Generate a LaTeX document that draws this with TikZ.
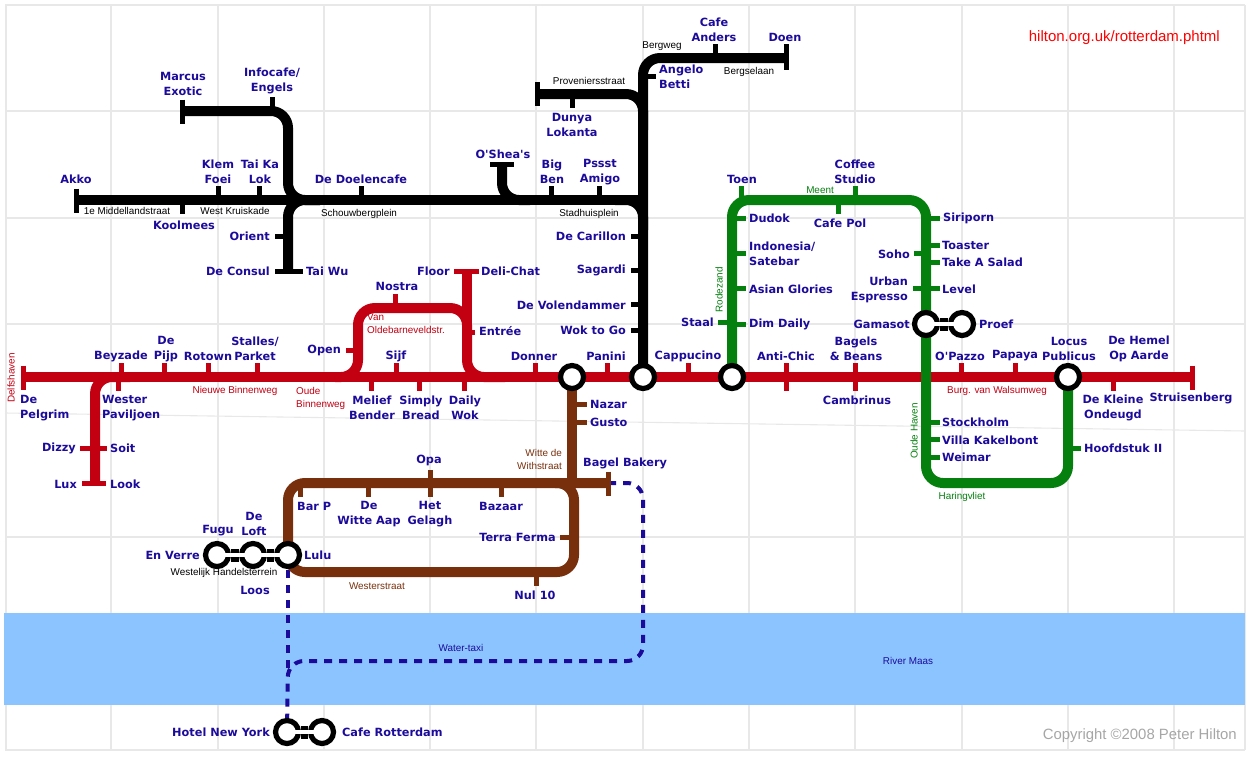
\documentclass[tikz,border=0pt]{standalone}
\usepackage{fontspec}
\setmainfont{DejaVu Sans}[Ligatures=TeXOff]
\newfontfamily\helv{Liberation Sans}
\definecolor{cred}{HTML}{C20012}
\definecolor{cgreen}{HTML}{05800F}
\definecolor{cbrown}{HTML}{78300C}
\definecolor{cnavy}{HTML}{1C0B9A}
\definecolor{criver}{HTML}{8BC4FF}
\definecolor{cgrid}{HTML}{E8E8E8}
\pgfdeclarelayer{lines}
\pgfsetlayers{lines,main}
\tikzset{
  gridline/.style={cgrid,line width=1.1pt},
  stn/.style={inner sep=0pt,text=cnavy,align=center,font=\fontsize{11.3}{15}\selectfont\bfseries},
  stnl/.style={stn,anchor=west,align=left},
  stnr/.style={stn,anchor=east,align=right},
  small/.style={inner sep=0pt,align=center,font=\helv\fontsize{9.9}{13}\selectfont},
  smr/.style={small,text=cred},
  smk/.style={small,text=black},
  smg/.style={small,text=cgreen},
  smb/.style={small,text=cbrown},
  smn/.style={small,text=cnavy},
  trunk/.style={line width=10pt,rounded corners=17pt,line cap=butt},
  stub/.style={line width=5pt,line cap=butt},
  ic/.style={circle,draw=black,fill=white,line width=5.2pt,minimum size=23pt,inner sep=0pt},
  linkout/.style={black,line width=13pt},
  linkin/.style={white,line width=4.4pt},
  taxi/.style={cnavy,line width=4pt,dash pattern=on 8pt off 7pt,rounded corners=16pt},
}
\begin{document}
\begin{tikzpicture}[x=1pt,y=-1pt]
\useasboundingbox (0,0) rectangle (1250,758);
% interchanges
\node[ic] (iDonner) at (572,377) {};
\node[ic] (iPanini) at (643,377) {};
\node[ic] (iCapp) at (732,377) {};
\node[ic] (iLocus) at (1068,377) {};
\node[ic] (iGamasot) at (926,324) {};
\node[ic] (iProef) at (962,324) {};
\node[ic] (iLulu) at (288,555) {};
\node[ic] (iLoft) at (253,555) {};
\node[ic] (iVerre) at (217,555) {};
\node[ic] (iHotel) at (287,732) {};
\node[ic] (iCafeR) at (322,732) {};
% labels: black line
\node[stn] (Akko) at (76,179) {Akko};
\node[stn] (Klem) at (218,172) {Klem\\Foei};
\node[stn] (TaiKa) at (260,172) {Tai Ka\\Lok};
\node[stn] (Marcus) at (183,84) {Marcus\\Exotic};
\node[stn] (Infocafe) at (272,81) {Infocafe/\\Engels};
\node[stn] (Doelen) at (361,179) {De Doelencafe};
\node[stn] (Koolmees) at (184,225) {Koolmees};
\node[stnr] (Orient) at (270,236) {Orient};
\node[stnr] (Consul) at (270,271) {De Consul};
\node[stnl] (TaiWu) at (306,271) {Tai Wu};
\node[stn] (OShea) at (503,154) {O'Shea's};
\node[stn] (BigBen) at (552,172) {Big\\Ben};
\node[stn] (Pssst) at (600,172) {Pssst\\Amigo};
\node[stn] (Dunya) at (572,125) {Dunya\\Lokanta};
\node[stn] (Anders) at (714,30) {Cafe\\Anders};
\node[stn] (Doen) at (785,37) {Doen};
\node[stnl] (Angelo) at (659,77) {Angelo\\Betti};
\node[stnr] (Carillon) at (626,236) {De Carillon};
\node[stnr] (Sagardi) at (626,270) {Sagardi};
\node[stnr] (Volen) at (626,305) {De Volendammer};
\node[stnr] (Wok) at (626,330) {Wok to Go};
% labels: green line
\node[stn] (Toen) at (742,179) {Toen};
\node[stn] (Coffee) at (855,172) {Coffee\\Studio};
\node[stn] (CafePol) at (840,223) {Cafe Pol};
\node[stnl] (Dudok) at (749,218) {Dudok};
\node[stnl] (Indonesia) at (749,254) {Indonesia/\\Satebar};
\node[stnl] (Asian) at (749,289) {Asian Glories};
\node[stnl] (DimDaily) at (749,324) {Dim Daily};
\node[stnr] (Staal) at (714,322) {Staal};
\node[stnl] (Siriporn) at (943,218) {Siriporn};
\node[stnl] (Toaster) at (942,245) {Toaster};
\node[stnl] (Salad) at (942,262) {Take A Salad};
\node[stnr] (Soho) at (910,254) {Soho};
\node[stnr] (Urban) at (908,290) {Urban\\Espresso};
\node[stnl] (Level) at (942,289) {Level};
\node[stnr] (Gamasot) at (910,324) {Gamasot};
\node[stnl] (Proef) at (979,324) {Proef};
\node[stnl] (Stockholm) at (942,422) {Stockholm};
\node[stnl] (Villa) at (942,440) {Villa Kakelbont};
\node[stnl] (Weimar) at (942,457) {Weimar};
\node[stnl] (Hoofdstuk) at (1084,448) {Hoofdstuk II};
% labels: red line
\node[stn] (Nostra) at (397,286) {Nostra};
\node[stnr] (Floor) at (450,271) {Floor};
\node[stnl] (Deli) at (481,271) {Deli-Chat};
\node[stnl] (Entree) at (479,331) {Entrée};
\node[stnr] (Open) at (341,350) {Open};
\node[stn] (Beyzade) at (121,356) {Beyzade};
\node[stn] (Pijp) at (166,349) {De\\Pijp};
\node[stn] (Rotown) at (208,356) {Rotown};
\node[stn] (Stalles) at (255,349) {Stalles/\\Parket};
\node[stn] (Sijf) at (396,356) {Sijf};
\node[stn] (Donner) at (534,356) {Donner};
\node[stn] (Panini) at (606,356) {Panini};
\node[stn] (Cappucino) at (688,356) {Cappucino};
\node[stn] (AntiChic) at (786,356) {Anti-Chic};
\node[stn] (Bagels) at (856,349) {Bagels\\\& Beans};
\node[stn] (OPazzo) at (960,356) {O'Pazzo};
\node[stn] (Papaya) at (1015,356) {Papaya};
\node[stn] (Locus) at (1069,349) {Locus\\Publicus};
\node[stn] (Hemel) at (1139,349) {De Hemel\\Op Aarde};
\node[stnl] (Pelgrim) at (20,408) {De\\Pelgrim};
\node[stnl] (Wester) at (102,408) {Wester\\Paviljoen};
\node[stn] (Melief) at (372,408) {Melief\\Bender};
\node[stn] (Simply) at (421,408) {Simply\\Bread};
\node[stn] (DailyWok) at (465,408) {Daily\\Wok};
\node[stn] (Cambrinus) at (857,400) {Cambrinus};
\node[stn] (Kleine) at (1113,408) {De Kleine\\Ondeugd};
\node[stn] (Struisenberg) at (1191,398) {Struisenberg};
\node[stnr] (Dizzy) at (76,448) {Dizzy};
\node[stnl] (Soit) at (110,448) {Soit};
\node[stnr] (Lux) at (77,484) {Lux};
\node[stnl] (Look) at (110,484) {Look};
% labels: brown line
\node[stnl] (Nazar) at (590,404) {Nazar};
\node[stnl] (Gusto) at (590,422) {Gusto};
\node[stnl] (BagelB) at (583,463) {Bagel Bakery};
\node[stn] (Opa) at (429,460) {Opa};
\node[stnl] (BarP) at (297,506) {Bar P};
\node[stn] (WitteAap) at (369,514) {De\\Witte Aap};
\node[stn] (Gelagh) at (430,514) {Het\\Gelagh};
\node[stn] (Bazaar) at (501,506) {Bazaar};
\node[stnr] (Terra) at (556,537) {Terra Ferma};
\node[stn] (Nul) at (535,595) {Nul 10};
\node[stn] (Fugu) at (218,531) {Fugu};
\node[stn] (Loft) at (254,524) {De\\Loft};
\node[stnr] (Verre) at (200,555) {En Verre};
\node[stnl] (Lulu) at (304,555) {Lulu};
\node[stn] (Loos) at (255,590) {Loos};
\node[stnr] (HotelNY) at (270,732) {Hotel New York};
\node[stnl] (CafeRott) at (342,732) {Cafe Rotterdam};
% street labels
\node[smr,rotate=90] (sDelf) at (11,378) {Delfshaven};
\node[smr] (sNieuwe) at (235,391) {Nieuwe Binnenweg};
\node[smr,anchor=west,align=left] (sOude) at (296,398) {Oude\\Binnenweg};
\node[smr,anchor=west,align=left] (sVan) at (367,324) {Van\\Oldebarneveldstr.};
\node[smr] (sBurg) at (997,391) {Burg. van Walsumweg};
\node[smk] (sBerg) at (662,46) {Bergweg};
\node[smk] (sBergs) at (749,72) {Bergselaan};
\node[smk] (sProv) at (589,81) {Proveniersstraat};
\node[smk] (sStad) at (589,214) {Stadhuisplein};
\node[smk] (sMidd) at (127,211) {1e Middellandstraat};
\node[smk] (sWest) at (235,211) {West Kruiskade};
\node[smk] (sSchouw) at (359,214) {Schouwbergplein};
\node[smk] (sHandel) at (224,573) {Westelijk Handelsterrein};
\node[smg,rotate=90] (sRode) at (719,290) {Rodezand};
\node[smg] (sMeent) at (820,190) {Meent};
\node[smg,rotate=90] (sOudeH) at (914,431) {Oude Haven};
\node[smg] (sHaring) at (962,497) {Haringvliet};
\node[smb,anchor=east,align=right] (sWitte) at (562,459) {Witte de\\Withstraat};
\node[smb] (sWesterst) at (377,586) {Westerstraat};
\node[smn] (sTaxi) at (461,648) {Water-taxi};
\node[smn] (sMaas) at (908,661) {River Maas};
\node[inner sep=0pt,text=red,font=\helv\fontsize{15}{17}\selectfont,anchor=east] (sUrl) at (1220,37.500) {hilton.org.uk/rotterdam.phtml};
\node[inner sep=0pt,text=black!35,font=\helv\fontsize{14.9}{17}\selectfont,anchor=east] (sCopy) at (1237,736) {Copyright ©2008 Peter Hilton};
% end points
\coordinate (rW) at (23,377);
\coordinate (rE) at (1192,377);
\coordinate (kW) at (76,200);
\coordinate (kR) at (643,200);
\coordinate (bagelEnd) at (608,483);
\begin{pgfonlayer}{lines}
% background and grid
\foreach \gx in {6,111,218,324,430,536,643,749,855,962,1068,1174,1245}
  \draw[gridline] (\gx,5) -- (\gx,750);
\foreach \gy in {5,111,218,324,537,750}
  \draw[gridline] (5,\gy) -- (1245,\gy);
\draw[gridline] (5,413) -- (1245,431);
\fill[criver] (4,613) rectangle (1245,705);
% water taxi
\draw[taxi] (bagelEnd) -- (643,483) -- (643,661) -- (288,661) -- (iHotel.center);
\draw[taxi,rounded corners=0pt] (iLulu.center) -- (288,668);
% red
\draw[trunk,cred,rounded corners=0pt] (rW) -- (rE);
\draw[trunk,cred] (95,483) -- (95,377) -- (130,377);
\draw[trunk,cred] (335,377) -- (358,377) -- (358,308) -- (467,308) -- (467,377) -- (505,377);
\draw[trunk,cred,rounded corners=0pt] (467,271) -- (467,340);
\draw[stub,cred] (23,365.500) -- (23,389.500);
\draw[stub,cred] (1192,365.500) -- (1192,389.500);
\draw[stub,cred] (82,483) -- (106,483);
\draw[stub,cred] (80,448) -- (107,448);
\draw[stub,cred] (454,271) -- (479,271);
\foreach \tx in {121,164,208,257,396,535,607,688,786,855,961,1015}
  \draw[stub,cred] (\tx,363) -- (\tx,377);
\foreach \tx in {118,371,419,464,786,855,1113}
  \draw[stub,cred] (\tx,377) -- (\tx,391);
\draw[stub,cred] (346,350) -- (358,350);
\draw[stub,cred] (395,294) -- (395,308);
\draw[stub,cred] (467,332) -- (475,332);
% black
\draw[trunk,black,rounded corners=0pt] (kW) -- (kR);
\draw[trunk,black] (182,111) -- (288,111) -- (288,200) -- (320,200);
\draw[trunk,black] (288,271) -- (288,200) -- (320,200);
\draw[trunk,black] (502,164) -- (502,200) -- (530,200);
\draw[trunk,black] (615,200) -- (643,200) -- (643,230);
\draw[trunk,black] (537,94) -- (643,94) -- (643,130);
\draw[trunk,black] (786,58) -- (643,58) -- (iPanini.center);
\draw[stub,black] (76,188.500) -- (76,212.500);
\draw[stub,black] (182,99.500) -- (182,123.500);
\draw[stub,black] (537,82) -- (537,106);
\draw[stub,black] (786,44) -- (786,70);
\draw[stub,black] (275,271) -- (303,271);
\draw[stub,black] (490,164) -- (514,164);
\foreach \tx in {218,259,361,551,599}
  \draw[stub,black] (\tx,186) -- (\tx,200);
\draw[stub,black] (182,200) -- (182,214);
\draw[stub,black] (272,97) -- (272,111);
\draw[stub,black] (572,94) -- (572,108);
\draw[stub,black] (715,44) -- (715,58);
\draw[stub,black] (275,236) -- (288,236);
\draw[stub,black] (643,76) -- (656,76);
\foreach \ty in {236,270,304,330}
  \draw[stub,black] (631,\ty) -- (643,\ty);
% green
\draw[trunk,cgreen] (iCapp.center) -- (732,200) -- (926,200) -- (926,483) -- (1068,483) -- (iLocus.center);
\draw[stub,cgreen] (741,186) -- (741,200);
\draw[stub,cgreen] (855,186) -- (855,200);
\draw[stub,cgreen] (838,200) -- (838,214);
\foreach \ty in {218,253,288,324}
  \draw[stub,cgreen] (732,\ty) -- (746,\ty);
\draw[stub,cgreen] (718,322) -- (732,322);
\foreach \ty in {218,245,262,288,422,439,457}
  \draw[stub,cgreen] (926,\ty) -- (940,\ty);
\draw[stub,cgreen] (914,253) -- (926,253);
\draw[stub,cgreen] (913,288) -- (926,288);
\draw[stub,cgreen] (1068,448) -- (1081,448);
% brown
\draw[trunk,cbrown,rounded corners=0pt] (iDonner.center) -- (572,483);
\draw[trunk,cbrown] (iLulu.center) -- (288,483) -- (bagelEnd);
\draw[trunk,cbrown] (iLulu.center) -- (288,572) -- (574,572) -- (574,483) -- (555,483);
\draw[stub,cbrown] (608,471.500) -- (608,495.500);
\foreach \tx in {300,368,430,501}
  \draw[stub,cbrown] (\tx,483) -- (\tx,497);
\draw[stub,cbrown] (430,470) -- (430,483);
\draw[stub,cbrown] (560,537) -- (574,537);
\draw[stub,cbrown] (536,572) -- (536,586);
\draw[stub,cbrown] (572,404) -- (587,404);
\draw[stub,cbrown] (572,422) -- (587,422);
% interchange links, outer
\draw[linkout] (iGamasot) -- (iProef);
\draw[linkout] (iVerre) -- (iLoft);
\draw[linkout] (iLoft) -- (iLulu);
\draw[linkout] (iHotel) -- (iCafeR);
\end{pgfonlayer}
% interchange links, inner
\draw[linkin] (iGamasot.center) -- (iProef.center);
\draw[linkin] (iVerre.center) -- (iLoft.center);
\draw[linkin] (iLoft.center) -- (iLulu.center);
\draw[linkin] (iHotel.center) -- (iCafeR.center);
\end{tikzpicture}
\end{document}
